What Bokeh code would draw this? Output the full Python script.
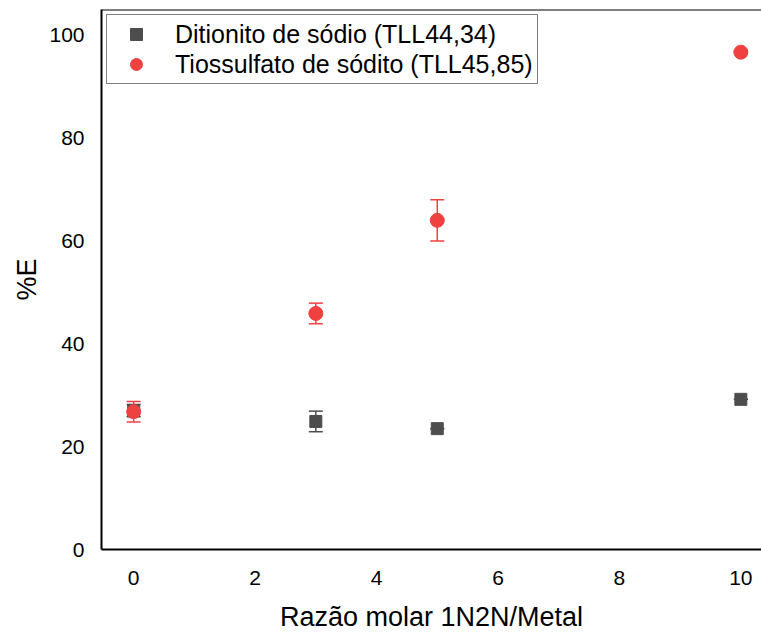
from bokeh.plotting import figure
from bokeh.models import ColumnDataSource, Whisker, Span, Range1d, Legend, LegendItem
from bokeh.embed import file_html
from bokeh.resources import INLINE

# Extraction (%E) versus 1N2N/metal molar ratio
razao = [0, 3, 5, 10]

ditionito = [27.0, 24.9, 23.5, 29.2]
ditionito_err = [1.2, 2.0, 0.0, 0.0]

tiossulfato = [26.8, 45.9, 64.0, 96.7]
tiossulfato_err = [2.0, 2.0, 4.0, 0.0]

x_ticks = [0, 2, 4, 6, 8, 10]
y_ticks = [0, 20, 40, 60, 80, 100]

FONT = "Liberation Sans"
GRAY = "#4d4d4d"
RED = "#f04141"


def with_bounds(x, y, err):
    return ColumnDataSource(dict(
        x=x, y=y,
        lower=[a - e for a, e in zip(y, err)],
        upper=[a + e for a, e in zip(y, err)],
    ))


src_d = with_bounds(razao, ditionito, ditionito_err)
src_t = with_bounds(razao, tiossulfato, tiossulfato_err)

p = figure(
    width=761, height=635,
    x_range=Range1d(-0.53, 10.34), y_range=Range1d(0, 105),
    output_backend="svg", toolbar_location=None,
    min_border_left=101, min_border_right=0,
    min_border_top=9, min_border_bottom=86,
)
p.grid.visible = False
p.outline_line_color = None
p.background_fill_color = "white"
p.border_fill_color = "white"

for ax in (p.xaxis, p.yaxis):
    ax.axis_line_color = "black"
    ax.axis_line_width = 2
    ax.major_tick_line_color = None
    ax.minor_tick_line_color = None
    ax.major_tick_out = 0
    ax.major_tick_in = 0
    ax.major_label_text_font = FONT
    ax.major_label_text_font_size = "21px"
    ax.major_label_text_color = "black"
    ax.axis_label_text_font = FONT
    ax.axis_label_text_font_size = "27px"
    ax.axis_label_text_font_style = "normal"
    ax.axis_label_text_color = "black"

p.xaxis.ticker = x_ticks
p.yaxis.ticker = y_ticks
p.xaxis.axis_label = "Razão molar 1N2N/Metal"
p.yaxis.axis_label = "%E"
p.xaxis.major_label_standoff = 21
p.xaxis.axis_label_standoff = 14
p.yaxis.major_label_standoff = 17
p.yaxis.axis_label_standoff = 4

# top border of the frame
p.add_layout(Span(location=105, dimension="width", line_color="black", line_width=2))

# error bars
for src, color in ((src_d, GRAY), (src_t, RED)):
    w = Whisker(source=src, base="x", lower="lower", upper="upper",
                line_color=color, line_width=1.5)
    w.upper_head.size = 14
    w.lower_head.size = 14
    w.upper_head.line_color = color
    w.lower_head.line_color = color
    w.upper_head.line_width = 1.5
    w.lower_head.line_width = 1.5
    p.add_layout(w)

r_d = p.scatter("x", "y", source=src_d, marker="square", size=12,
                fill_color=GRAY, line_color=GRAY)
r_t = p.scatter("x", "y", source=src_t, marker="circle", size=14,
                fill_color=RED, line_color=RED)

legend = Legend(items=[
    LegendItem(label="Ditionito de sódio (TLL44,34)", renderers=[r_d]),
    LegendItem(label="Tiossulfato de sódito (TLL45,85)", renderers=[r_t]),
], location="top_left")
legend.margin = 5
legend.padding = 4
legend.spacing = 0
legend.glyph_width = 50
legend.glyph_height = 30
legend.label_height = 30
legend.label_standoff = 14
legend.label_text_font = FONT
legend.label_text_font_size = "25px"
legend.label_text_color = "black"
legend.border_line_color = "black"
legend.border_line_width = 1
legend.background_fill_alpha = 1
p.add_layout(legend)

open("out.html", "w").write(file_html(p, INLINE))
